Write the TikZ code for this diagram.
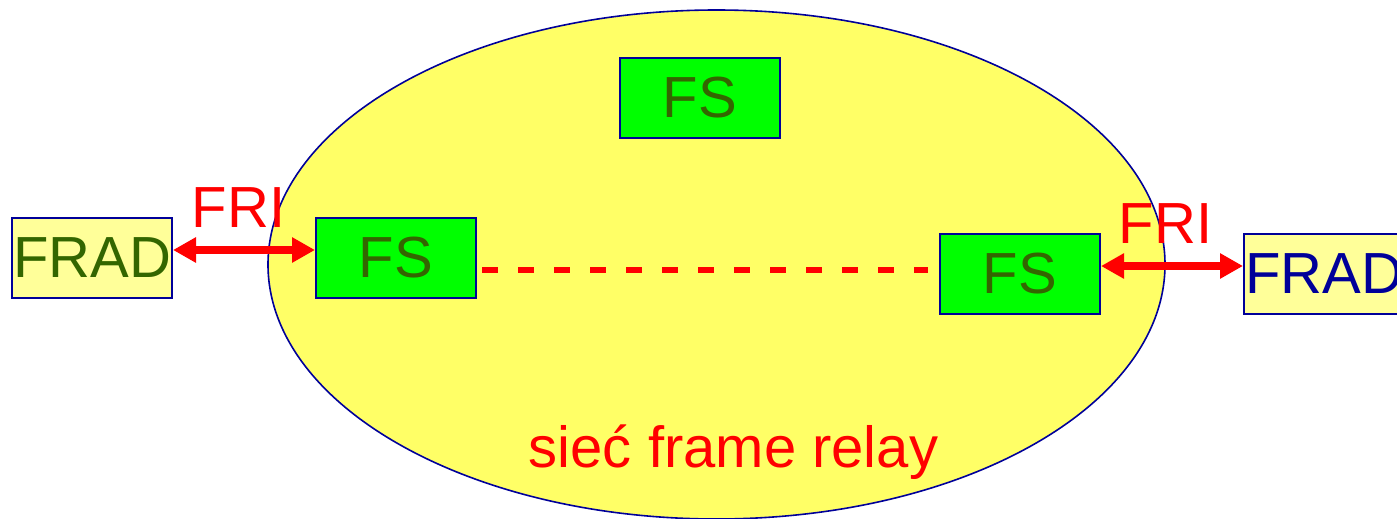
\documentclass[tikz,border=0pt]{standalone}
\usepackage{fontspec}
\setmainfont{Liberation Sans}
\usetikzlibrary{arrows.meta,shapes.geometric,calc}
\definecolor{netyellow}{HTML}{FFFF66}
\definecolor{boxyellow}{HTML}{FFFF99}
\definecolor{switchgreen}{HTML}{00FF00}
\definecolor{darkgreen}{HTML}{336600}
\definecolor{navy}{HTML}{000099}
\definecolor{linkred}{HTML}{FF0000}
\tikzset{
  bigtext/.style={font=\fontsize{58}{60}\selectfont},
  fsbox/.style={draw=navy, line width=2pt, fill=switchgreen, minimum width=160pt,
    minimum height=80pt, inner sep=0pt, text=darkgreen, bigtext},
  fradbox/.style={draw=navy, line width=2pt, fill=boxyellow, minimum width=160pt,
    minimum height=80pt, inner sep=0pt, bigtext},
  frilink/.style={linkred, line width=8pt,
    {Triangle[length=23pt,width=24pt]}-{Triangle[length=23pt,width=24pt]}},
  frilabel/.style={text=linkred, bigtext, inner sep=0pt, anchor=base},
  trunk/.style={linkred, line width=6pt, dash pattern=on 16pt off 20pt}
}
\begin{document}
\begin{tikzpicture}[x=1pt,y=-1pt]
  \useasboundingbox (0,0) rectangle (1397,519);

  % frame relay cloud
  \node[ellipse, draw=navy, line width=1.6pt, fill=netyellow, inner sep=0pt,
        minimum width=897pt, minimum height=509pt] (net) at (716.5,264.5) {};
  \node[text=linkred, bigtext, inner sep=0pt, anchor=base] (netname) at (733.5,467)
        {sieć frame relay};

  % frame relay switches
  \node[fsbox] (fstop) at (700,98) {FS};
  \node[fsbox] (fsleft) at (396,258) {FS};
  \node[fsbox] (fsright) at (1020,274) {FS};

  % access devices
  \node[fradbox, text=darkgreen] (fradleft) at (92,258) {FRAD};
  \node[fradbox, text=navy] (fradright) at (1324,273.5) {FRAD};

  % user-network interfaces
  \draw[frilink] ($(fradleft.east)+(0,-8)$) -- ($(fsleft.west)+(0,-8)$);
  \draw[frilink] ($(fsright.east)+(0,-8)$) -- ($(fradright.west)+(0,-7.5)$);
  \node[frilabel] (frileft) at (238.5,227) {FRI};
  \node[frilabel] (friright) at (1165.5,243) {FRI};

  % virtual circuit across the network
  \draw[trunk] ($(fsleft.east)+(5,12)$) -- ($(fsright.west)+(-11,-4)$);
\end{tikzpicture}
\end{document}
